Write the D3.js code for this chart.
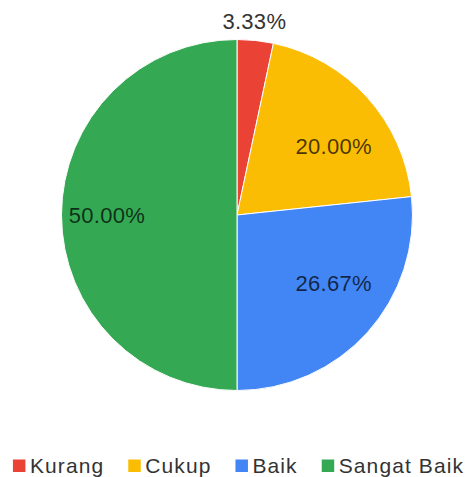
<!DOCTYPE html>
<html>
<head>
<meta charset="utf-8">
<script src="https://cdn.jsdelivr.net/npm/d3@7"></script>
<style>
  html, body { margin: 0; padding: 0; background: #fff; }
  svg { display: block; }
</style>
</head>
<body>
<svg id="chart" width="471" height="477"></svg>
<script>
// Category labels, shares (percent) and slice colours
const categories = ["Kurang", "Cukup", "Baik", "Sangat Baik"];
const percents = [3.33, 20.00, 26.67, 50.00];
const colors = ["#ea4335", "#fbbc04", "#4285f4", "#34a853"];

const width = 471, height = 477;
const cx = 237, cy = 215, radius = 175.5;
const fontFamily = "'Liberation Sans', Arial, sans-serif";

const svg = d3.select("#chart");
const data = categories.map((c, i) => ({ name: c, value: percents[i], color: colors[i] }));

const pie = d3.pie().sort(null).value(d => d.value).startAngle(0).endAngle(2 * Math.PI);
const arcs = pie(data);
const arc = d3.arc().innerRadius(0).outerRadius(radius);
const labelArc = d3.arc().innerRadius(radius * 0.68).outerRadius(radius * 0.68);

const g = svg.append("g").attr("transform", `translate(${cx},${cy})`);

g.selectAll("path.slice")
  .data(arcs)
  .join("path")
  .attr("class", "slice")
  .attr("d", arc)
  .attr("fill", d => d.data.color)
  .attr("stroke", "#ffffff")
  .attr("stroke-width", 1);

const fmt = v => v.toFixed(2) + "%";

// Slices wide enough hold their label inside; thin ones get it outside the rim
arcs.forEach(d => {
  const span = d.endAngle - d.startAngle;
  const mid = (d.startAngle + d.endAngle) / 2;
  let x, y, fill;
  if (span > 0.4) {
    const [lx, ly] = labelArc.centroid(d);
    x = lx * 1.09;
    y = ly * 0.86;
    fill = "rgba(0,0,0,0.72)";
  } else {
    const r = radius + 19;
    x = Math.sin(mid) * r - 3;
    y = -Math.cos(mid) * r;
    fill = "#333";
  }
  g.append("text")
    .attr("x", x)
    .attr("y", y)
    .attr("text-anchor", "middle")
    .attr("dominant-baseline", "central")
    .attr("font-family", fontFamily)
    .attr("font-size", 22)
    .attr("letter-spacing", "0.3px")
    .attr("fill", fill)
    .text(fmt(d.data.value));
});

// Legend: coloured square followed by category name, centred in one row
const legend = svg.append("g");
const sq = 12.5, gapText = 4.5, gapItem = 24, legendBaseline = 472.5;
let cursor = 0;
data.forEach(d => {
  const item = legend.append("g");
  item.append("rect")
    .attr("x", 0).attr("y", legendBaseline - 13)
    .attr("width", sq).attr("height", sq)
    .attr("fill", d.color);
  const t = item.append("text")
    .attr("x", sq + gapText)
    .attr("y", legendBaseline)
    .attr("font-family", fontFamily)
    .attr("font-size", 21)
    .attr("letter-spacing", "1.1px")
    .attr("fill", "#333")
    .text(d.name);
  const w = sq + gapText + t.node().getComputedTextLength();
  item.attr("transform", `translate(${cursor},0)`);
  cursor += w + gapItem;
});
const total = cursor - gapItem;
legend.attr("transform", `translate(${(width - total) / 2 + 3},0)`);
</script>
</body>
</html>
